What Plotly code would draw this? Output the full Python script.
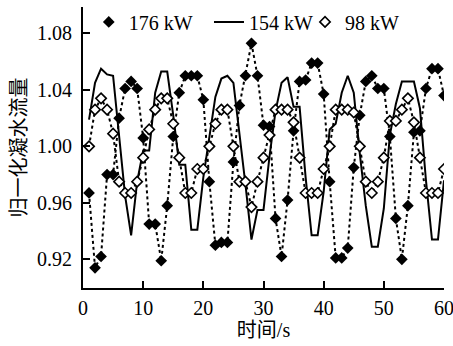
import plotly.graph_objects as go

time_s = list(range(1, 61))

flow_176kW = [0.967, 0.914, 0.922, 0.980, 0.980, 1.020, 1.041, 1.046, 1.041, 1.006,
              0.945, 0.945, 0.919, 0.958, 1.007, 1.038, 1.050, 1.050, 1.050, 1.033,
              0.975, 0.930, 0.932, 0.932, 0.989, 1.029, 1.050, 1.073, 1.050, 1.015,
              1.014, 0.949, 0.922, 0.962, 1.011, 1.046, 1.047, 1.059, 1.059, 1.037,
              0.975, 0.921, 0.921, 0.928, 0.985, 1.022, 1.046, 1.050, 1.041, 1.041,
              1.007, 0.949, 0.920, 0.958, 1.010, 1.011, 1.041, 1.055, 1.055, 1.036]

flow_154kW = [1.019, 1.045, 1.055, 1.051, 1.050, 1.010, 0.965, 0.937, 0.975, 0.997,
              0.997, 1.038, 1.053, 1.053, 1.022, 0.987, 0.987, 0.941, 0.941, 0.978,
              1.008, 1.035, 1.048, 1.050, 1.045, 1.010, 0.973, 0.934, 0.955, 0.955,
              0.993, 1.025, 1.045, 1.049, 1.028, 1.028, 0.978, 0.937, 0.937, 0.968,
              1.012, 1.016, 1.038, 1.050, 1.038, 0.995, 0.958, 0.929, 0.929, 0.956,
              1.008, 1.030, 1.046, 1.046, 1.046, 1.027, 0.976, 0.934, 0.934, 0.976]

flow_98kW = [1.000, 1.026, 1.034, 1.026, 1.009, 0.975, 0.967, 0.967, 0.975, 0.992,
             1.012, 1.026, 1.034, 1.034, 1.016, 0.992, 0.967, 0.967, 0.984, 0.984,
             1.000, 1.016, 1.026, 1.026, 1.000, 0.975, 0.975, 0.957, 0.975, 0.992,
             1.008, 1.026, 1.026, 1.026, 1.017, 0.992, 0.967, 0.967, 0.967, 0.984,
             1.000, 1.026, 1.026, 1.026, 1.024, 1.000, 0.975, 0.967, 0.975, 0.992,
             1.018, 1.018, 1.026, 1.034, 1.017, 0.992, 0.967, 0.967, 0.967, 0.984]

series_names = ["176 kW", "154 kW", "98 kW"]
x_ticks = [0, 10, 20, 30, 40, 50, 60]
y_ticks = [0.92, 0.96, 1.00, 1.04, 1.08]

SERIF = "Liberation Serif, Times New Roman, serif"
CJK = "Liberation Serif, Noto Sans CJK SC, serif"

fig = go.Figure()

# data traces
fig.add_trace(go.Scatter(
    x=time_s, y=flow_154kW, mode="lines",
    line=dict(color="black", width=2), showlegend=False))
fig.add_trace(go.Scatter(
    x=time_s, y=flow_176kW, mode="lines+markers",
    line=dict(color="black", width=2, dash="dot"),
    marker=dict(symbol="diamond", size=9, color="black"), showlegend=False))
fig.add_trace(go.Scatter(
    x=time_s, y=flow_98kW, mode="lines+markers",
    line=dict(color="black", width=2, dash="dot"),
    marker=dict(symbol="diamond", size=8, color="white",
                line=dict(color="black", width=1.6)), showlegend=False))

# legend entries
fig.add_trace(go.Scatter(
    x=[None], y=[None], mode="markers", name=series_names[0],
    marker=dict(symbol="diamond", size=9, color="black"), legend="legend"))
fig.add_trace(go.Scatter(
    x=[None], y=[None], mode="lines", name=series_names[1],
    line=dict(color="black", width=2), legend="legend2"))
fig.add_trace(go.Scatter(
    x=[None], y=[None], mode="markers", name=series_names[2],
    marker=dict(symbol="diamond", size=8, color="white",
                line=dict(color="black", width=1.6)), legend="legend3"))

leg_common = dict(yanchor="middle", xanchor="left", bgcolor="rgba(0,0,0,0)",
                  font=dict(family=SERIF, size=20, color="black"),
                  itemwidth=30, borderwidth=0)

fig.update_layout(
    width=453, height=346,
    margin=dict(l=83, r=9, t=7, b=58, autoexpand=False),
    paper_bgcolor="white", plot_bgcolor="white",
    legend=dict(x=0.016, y=0.947, **leg_common),
    legend2=dict(x=0.349, y=0.947, **leg_common),
    legend3=dict(x=0.615, y=0.947, **leg_common),
    xaxis=dict(
        range=[0, 60], tickvals=x_ticks, ticktext=[str(v) for v in x_ticks],
        showgrid=False, zeroline=False, showline=True, linecolor="black", linewidth=2,
        ticks="inside", ticklen=7, tickwidth=2, tickcolor="black",
        ticklabeloverflow="allow", automargin=False, ticklabelstandoff=1,
        tickfont=dict(family=SERIF, size=20, color="black"),
        title=dict(text="时间/s", font=dict(family=CJK, size=20, color="black"), standoff=2),
    ),
    yaxis=dict(
        range=[0.8997, 1.0987], tickvals=y_ticks, ticktext=[f"{v:.2f}" for v in y_ticks],
        showgrid=False, zeroline=False, showline=True, linecolor="black", linewidth=2,
        ticks="inside", ticklen=7, tickwidth=2, tickcolor="black",
        automargin=False, ticklabelstandoff=5,
        tickfont=dict(family=SERIF, size=20, color="black"),
        title=dict(text="归一化凝水流量", font=dict(family=CJK, size=20, color="black"), standoff=5),
    ),
)

fig.write_html("out.html", config={"displayModeBar": False},
               post_script="document.body.style.margin='0';")
